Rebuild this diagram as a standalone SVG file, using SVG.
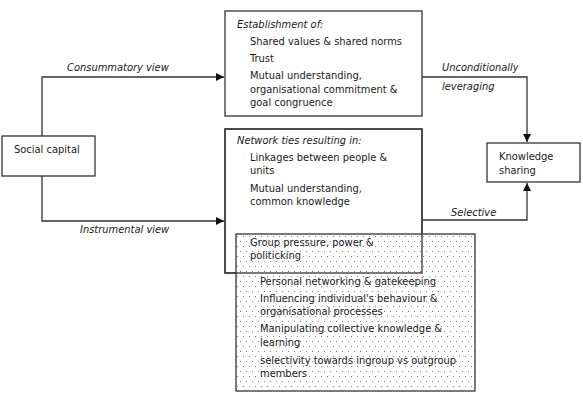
<svg xmlns="http://www.w3.org/2000/svg" width="583" height="412" viewBox="0 0 583 412">
<style>
text{font-family:"DejaVu Sans Condensed","DejaVu Sans",sans-serif;font-size:11px;fill:#1a1a1a}
.i{font-style:italic}
.box{fill:#fff;stroke:#333;stroke-width:1.3}
.ol{fill:none;stroke:#333;stroke-width:1.3}
.ln{fill:none;stroke:#333;stroke-width:1.3}
</style>
<defs>
<pattern id="dots" width="6" height="10" patternUnits="userSpaceOnUse" x="236" y="234">
<rect width="6" height="10" fill="#fff"/>
<rect x="1" y="2" width="1" height="1" fill="#888"/>
<rect x="4" y="7" width="1" height="1" fill="#888"/>
</pattern>
<marker id="ah" markerWidth="8" markerHeight="8" refX="8" refY="4" orient="auto" markerUnits="userSpaceOnUse">
<path d="M0,0 L8,4 L0,8 Z" fill="#111"/>
</marker>
</defs>
<g id="connectors">
<path class="ln" d="M42,136 V77 H224" marker-end="url(#ah)"/>
<path class="ln" d="M42,176 V221 H224" marker-end="url(#ah)"/>
<path class="ln" d="M422,77 H527 V142" marker-end="url(#ah)"/>
<path class="ln" d="M422,220 H527 V183" marker-end="url(#ah)"/>
<text class="i" x="67" y="71">Consummatory view</text>
<text class="i" x="80" y="233">Instrumental view</text>
<text class="i" x="442" y="71">Unconditionally</text>
<text class="i" x="442" y="90">leveraging</text>
<text class="i" x="451" y="216">Selective</text>
</g>
<g id="social-capital">
<rect class="box" x="2" y="136" width="93" height="40"/>
<text x="14" y="153">Social capital</text>
</g>
<g id="knowledge-sharing">
<rect class="box" x="487" y="143" width="93" height="39"/>
<text x="499" y="160">Knowledge</text>
<text x="499" y="174">sharing</text>
</g>
<g id="establishment">
<rect class="box" x="225" y="11" width="197" height="105"/>
<text class="i" x="237" y="28">Establishment of:</text>
<text x="250" y="45">Shared values &amp; shared norms</text>
<text x="250" y="62">Trust</text>
<text x="250" y="79">Mutual understanding,</text>
<text x="250" y="93">organisational commitment &amp;</text>
<text x="250" y="106">goal congruence</text>
</g>
<g id="network-ties">
<rect class="box" x="225" y="129" width="197" height="144"/>
<text class="i" x="237" y="144">Network ties resulting in:</text>
<text x="250" y="161">Linkages between people &amp;</text>
<text x="250" y="174">units</text>
<text x="250" y="192">Mutual understanding,</text>
<text x="250" y="205">common knowledge</text>
</g>
<g id="dark-side">
<rect x="236" y="234" width="239" height="157" fill="url(#dots)" stroke="#333" stroke-width="1.3"/>
<text x="250" y="246">Group pressure, power &amp;</text>
<text x="250" y="259">politicking</text>
<text x="260" y="285">Personal networking &amp; gatekeeping</text>
<text x="260" y="302">Influencing individual's behaviour &amp;</text>
<text x="260" y="315">organisational processes</text>
<text x="260" y="332">Manipulating collective knowledge &amp;</text>
<text x="260" y="346">learning</text>
<text x="260" y="364">selectivity towards ingroup vs outgroup</text>
<text x="260" y="377">members</text>
</g>
<rect class="ol" x="225" y="129" width="197" height="144"/>
</svg>
